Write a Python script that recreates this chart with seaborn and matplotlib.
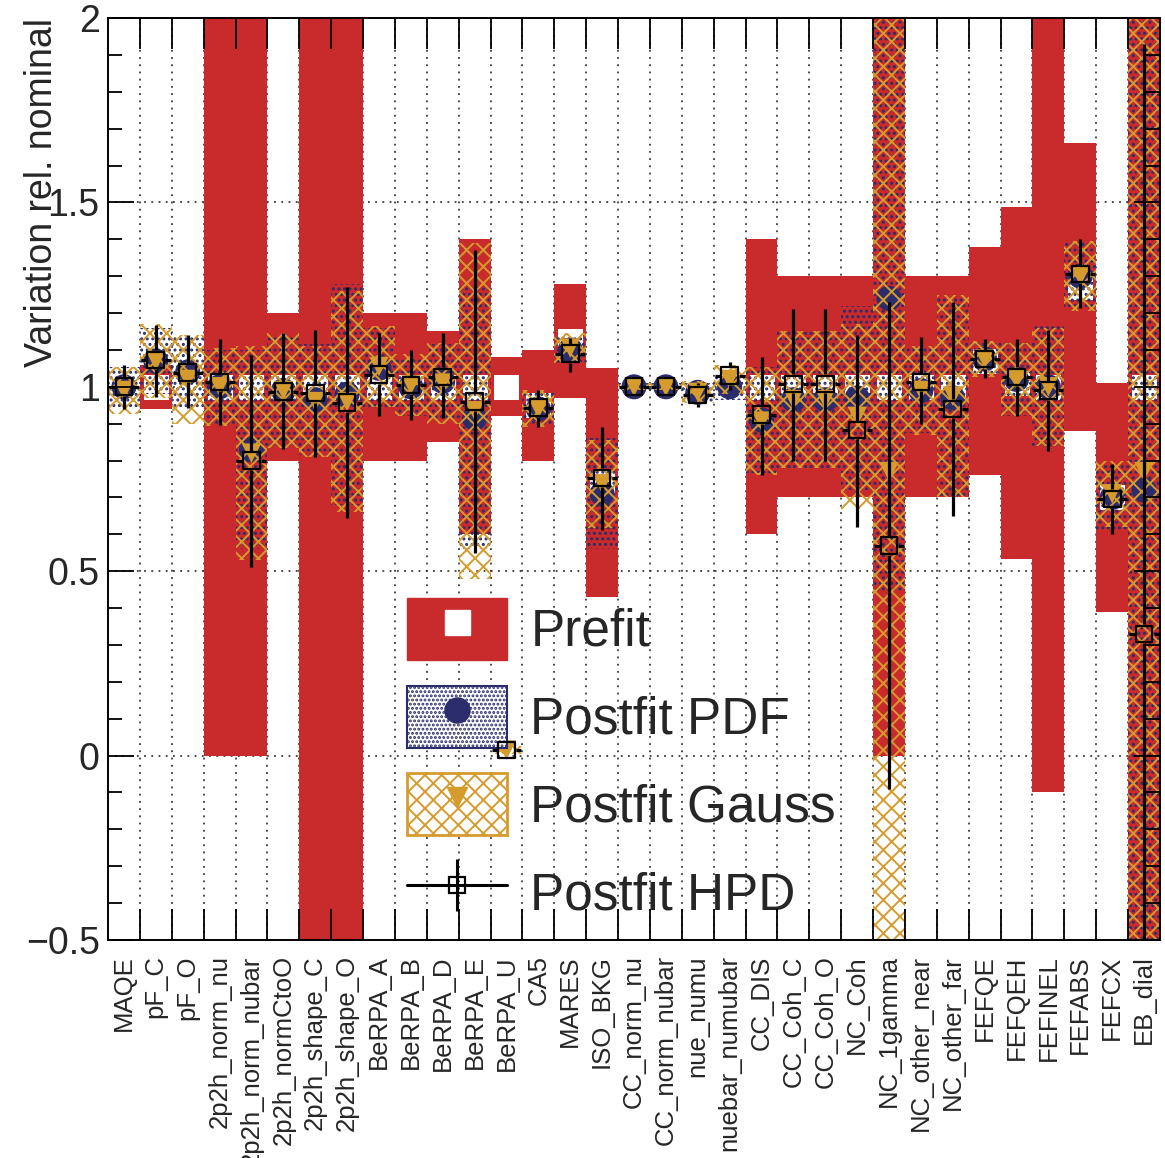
import numpy as np
import pandas as pd
import matplotlib
matplotlib.use("Agg")
import matplotlib.pyplot as plt
import seaborn as sns
from matplotlib.patches import Rectangle
from matplotlib.lines import Line2D
from matplotlib.ticker import FixedLocator, MultipleLocator, FuncFormatter, NullFormatter

# ---------------------------------------------------------------- data
params = ["MAQE", "pF_C", "pF_O", "2p2h_norm_nu", "2p2h_norm_nubar", "2p2h_normCtoO",
          "2p2h_shape_C", "2p2h_shape_O", "BeRPA_A", "BeRPA_B", "BeRPA_D", "BeRPA_E",
          "BeRPA_U", "CA5", "MARES", "ISO_BKG", "CC_norm_nu", "CC_norm_nubar", "nue_numu",
          "nuebar_numubar", "CC_DIS", "CC_Coh_C", "CC_Coh_O", "NC_Coh", "NC_1gamma",
          "NC_other_near", "NC_other_far", "FEFQE", "FEFQEH", "FEFINEL", "FEFABS", "FEFCX",
          "EB_dial"]

prefit_val = [1.0, 1.0, 1.0, 1.0, 1.0, 1.0, 1.0, 1.0, 1.0, 1.0, 1.0, 1.0, 1.0, 0.95, 1.125,
              0.74, 1.0, 1.0, 1.0, 1.0, 1.0, 1.0, 1.0, 1.0, 1.0, 1.0, 1.0, 1.07, 1.01, 1.0,
              1.27, 0.70, 1.0]
prefit_err = [0.0, 0.06, 0.0, 1.0, 1.0, 0.2, 3.0, 3.0, 0.2, 0.2, 0.15, 0.4, 0.08, 0.15, 0.155,
              0.31, 0.0, 0.0, 0.0, 0.0, 0.4, 0.3, 0.3, 0.3, 1.0, 0.3, 0.3, 0.31, 0.477, 1.1,
              0.39, 0.31, 3.0]

# BeRPA_U has no PDF-based posterior shown (NaN)
pdf_val = [1.0, 1.07, 1.04, 1.0, 0.83, 0.99, 0.965, 0.98, 1.05, 1.0, 1.015, 0.915, np.nan, 0.94,
           1.10, 0.71, 1.0, 1.0, 0.985, 1.0, 0.91, 0.965, 0.965, 0.97, 1.24, 0.99, 0.97, 1.075,
           1.02, 1.0, 1.30, 0.70, 0.72]
pdf_err = [0.055, 0.09, 0.10, 0.10, 0.27, 0.15, 0.15, 0.30, 0.11, 0.08, 0.10, 0.355, 0.0, 0.045,
           0.04, 0.15, 0.01, 0.01, 0.025, 0.035, 0.145, 0.185, 0.185, 0.25, 0.80, 0.115, 0.27,
           0.045, 0.10, 0.165, 0.09, 0.09, 1.5]

gauss_val = [0.99, 1.07, 1.02, 1.0, 0.82, 0.99, 0.96, 0.96, 1.055, 1.005, 1.01, 0.935, 0.015,
             0.94, 1.105, 0.737, 1.0, 1.0, 0.985, 1.02, 0.907, 0.965, 0.965, 0.92, 0.77, 0.99,
             0.975, 1.075, 1.02, 1.0, 1.30, 0.71, 0.77]
gauss_err = [0.065, 0.10, 0.12, 0.105, 0.29, 0.155, 0.15, 0.30, 0.11, 0.085, 0.11, 0.455, 0.01,
             0.05, 0.04, 0.12, 0.01, 0.01, 0.03, 0.04, 0.147, 0.185, 0.185, 0.25, 1.35, 0.12,
             0.275, 0.048, 0.10, 0.16, 0.095, 0.09, 1.5]

hpd_val = [1.0, 1.073, 1.038, 1.013, 0.80, 0.987, 0.983, 0.957, 1.033, 1.005, 1.027, 0.96, 0.015,
           0.943, 1.09, 0.753, 1.0, 1.0, 0.978, 1.03, 0.924, 1.008, 1.008, 0.883, 0.569, 1.013,
           0.94, 1.075, 1.027, 0.99, 1.306, 0.696, 0.33]
hpd_lo = [0.94, 0.973, 0.943, 0.897, 0.512, 0.83, 0.81, 0.645, 0.92, 0.91, 0.916, 0.55, 0.0,
          0.89, 1.04, 0.612, 0.99, 0.99, 0.946, 0.99, 0.76, 0.80, 0.80, 0.62, -0.09, 0.90, 0.65,
          1.024, 0.92, 0.826, 1.215, 0.60, -0.6]
hpd_hi = [1.06, 1.168, 1.14, 1.13, 1.087, 1.146, 1.155, 1.27, 1.146, 1.10, 1.146, 1.37, 0.03,
          0.99, 1.133, 0.89, 1.01, 1.01, 1.01, 1.068, 1.08, 1.21, 1.21, 1.14, 1.23, 1.135, 1.23,
          1.13, 1.13, 1.155, 1.40, 0.79, 1.93]

RED = "#c92a2c"
NAVY = "#2b2c6b"
GOLD = "#d69b2d"

df = pd.DataFrame({
    "param": params, "pos": np.arange(len(params)),
    "pre": prefit_val, "pre_err": prefit_err,
    "pdf": pdf_val, "pdf_err": pdf_err,
    "gauss": gauss_val, "gauss_err": gauss_err,
    "hpd": hpd_val, "hpd_lo": hpd_lo, "hpd_hi": hpd_hi,
})
n = len(df)

# ---------------------------------------------------------------- style
sns.set_theme(style="white")
plt.rcParams["font.family"] = ["Liberation Sans", "DejaVu Sans"]
plt.rcParams["hatch.linewidth"] = 1.4
plt.rcParams["axes.unicode_minus"] = True

W, H = 1165, 1158
fig = plt.figure(figsize=(W / 100, H / 100), dpi=100)
ax = fig.add_axes([108 / W, 218 / H, 1052 / W, 922 / H])
ax.set_xlim(-0.5, n - 0.5)
ax.set_ylim(-0.5, 2.0)

# dotted grid kept underneath everything else
edges = np.arange(0.5, n - 0.5, 1.0)
for e in edges:
    ax.axvline(e, color="#3a3a3a", lw=1.3, ls=(0, (1, 3)), zorder=0.5)
for yv in np.arange(-0.5, 2.01, 0.5):
    ax.axhline(yv, color="#3a3a3a", lw=1.3, ls=(0, (1, 3)), zorder=0.5)

# prefit band + white nominal marker
ax.bar(df["pos"], 2 * df["pre_err"], bottom=df["pre"] - df["pre_err"], width=1.0,
       color=RED, linewidth=0, zorder=1)
has_pre = df["pre_err"] > 0
ax.scatter(df.loc[has_pre, "pos"], df.loc[has_pre, "pre"], marker="s", s=18 ** 2,
           c="white", linewidths=0, zorder=2)

# postfit PDF band + marker
pdf_ok = df["pdf"].notna()
dpdf = df[pdf_ok]
ax.bar(dpdf["pos"], 2 * dpdf["pdf_err"], bottom=dpdf["pdf"] - dpdf["pdf_err"], width=1.0,
       facecolor="none", edgecolor=NAVY, hatch="...", linewidth=0, zorder=3)
sns.scatterplot(data=dpdf, x="pos", y="pdf", marker="o", s=18 ** 2, color=NAVY,
                edgecolor="none", zorder=4, ax=ax, legend=False)

# postfit Gauss band + marker
ax.bar(df["pos"], 2 * df["gauss_err"], bottom=df["gauss"] - df["gauss_err"], width=1.0,
       facecolor="none", edgecolor=GOLD, hatch="xx", linewidth=0, zorder=5)
sns.scatterplot(data=df, x="pos", y="gauss", marker="v", s=14 ** 2, color=GOLD,
                edgecolor="none", zorder=6, ax=ax, legend=False)

# postfit HPD: error cross with a gap around an open square
sq = 12
fig.canvas.draw()
bb = ax.get_window_extent()
half_px = (sq / 2 + 0.8) * fig.dpi / 72
gy = half_px * 2.5 / bb.height
gx = half_px * n / bb.width
xs = df["pos"].to_numpy(float)
yv = df["hpd"].to_numpy(float)
lo = df["hpd_lo"].to_numpy(float)
hi = df["hpd_hi"].to_numpy(float)
ax.vlines(xs, lo, np.maximum(lo, yv - gy), color="black", lw=2.3, zorder=7)
ax.vlines(xs, np.minimum(hi, yv + gy), hi, color="black", lw=2.3, zorder=7)
ax.hlines(yv, xs - 0.47, xs - gx, color="black", lw=2.3, zorder=7)
ax.hlines(yv, xs + gx, xs + 0.47, color="black", lw=2.3, zorder=7)
sns.scatterplot(data=df, x="pos", y="hpd", marker="s", s=sq ** 2, facecolor="none",
                edgecolor="black", linewidth=1.6, zorder=8, ax=ax, legend=False)

# ---------------------------------------------------------------- axes
ax.set_xlabel("")
ax.set_ylabel("Variation rel. nominal", fontsize=27, loc="top")
ax.yaxis.set_label_coords(-0.046, 1.0)

ax.xaxis.set_major_locator(FixedLocator(df["pos"]))
ax.set_xticklabels(df["param"], rotation=90, fontsize=18.5, va="top", ha="center")
ax.xaxis.set_minor_locator(FixedLocator(edges))
ax.xaxis.set_minor_formatter(NullFormatter())
ax.tick_params(axis="x", which="major", length=0, pad=11)
ax.tick_params(axis="x", which="minor", direction="in", length=22, width=1.3,
               top=True, bottom=True, color="black")

ax.yaxis.set_major_locator(MultipleLocator(0.5))
ax.yaxis.set_minor_locator(MultipleLocator(0.1))
ax.yaxis.set_major_formatter(FuncFormatter(lambda v, _: f"{v:g}".replace("-", "\u2212")))
ax.tick_params(axis="y", which="major", direction="in", length=19, width=1.3,
               left=True, right=True, labelsize=27, pad=6, color="black")
ax.tick_params(axis="y", which="minor", direction="in", length=10, width=1.3,
               left=True, right=True, color="black")
ax.xaxis.set_zorder(20)
ax.yaxis.set_zorder(20)
for sp in ax.spines.values():
    sp.set_color("black")
    sp.set_linewidth(1.4)
    sp.set_zorder(20)
ax.grid(False)

# ---------------------------------------------------------------- legend
h_pre = (Rectangle((0, 0), 1, 1, facecolor=RED, edgecolor=RED, lw=1),
         Line2D([], [], ls="none", marker="s", ms=18, mfc="white", mec="white"))
h_pdf = (Rectangle((0, 0), 1, 1, facecolor="white", edgecolor=NAVY, hatch="....", lw=1.5),
         Line2D([], [], ls="none", marker="o", ms=18, mfc=NAVY, mec=NAVY))
h_gau = (Rectangle((0, 0), 1, 1, facecolor="white", edgecolor=GOLD, hatch="xx", lw=2),
         Line2D([], [], ls="none", marker="v", ms=14, mfc=GOLD, mec=GOLD))
h_hpd = (Line2D([], [], color="black", lw=2.2),
         Line2D([], [], ls="none", marker="|", ms=38, mew=2.2, color="black"),
         Line2D([], [], ls="none", marker="s", ms=sq, mfc="none", mec="black", mew=1.6))
leg = ax.legend([h_pre, h_pdf, h_gau, h_hpd],
                ["Prefit", "Postfit PDF", "Postfit Gauss", "Postfit HPD"],
                loc="upper left", bbox_to_anchor=(407 / W, 1 - 598 / H),
                bbox_transform=fig.transFigure, frameon=False, fontsize=37,
                handlelength=1.95, handleheight=1.48, labelspacing=0.5,
                handletextpad=0.45, borderpad=0, borderaxespad=0)
leg.set_zorder(6.5)

fig.savefig("out.png", dpi=100)
